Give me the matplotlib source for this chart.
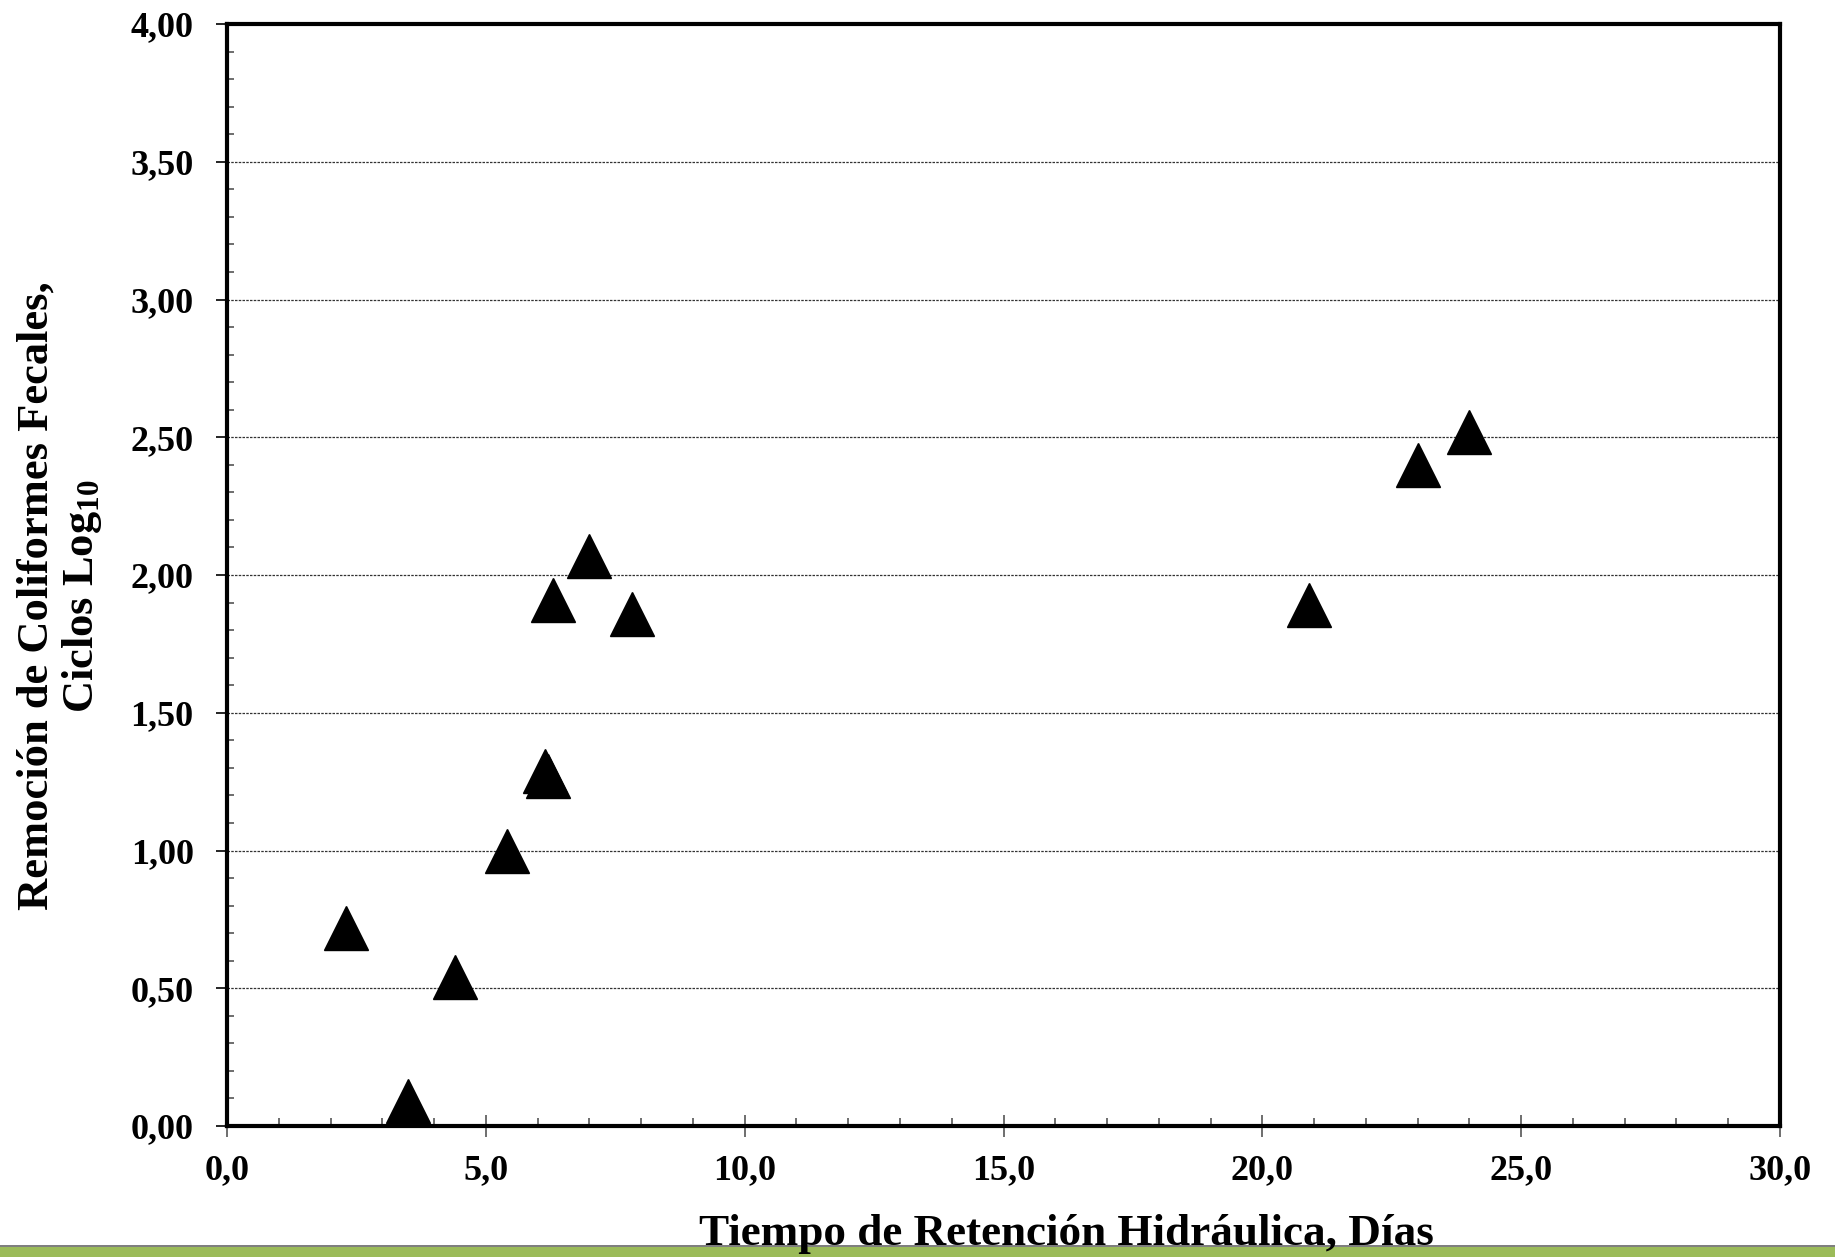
import matplotlib
matplotlib.use("Agg")
import matplotlib.pyplot as plt
from matplotlib.ticker import MultipleLocator, FuncFormatter
from matplotlib.patches import Rectangle

plt.rcParams['font.family'] = ['Liberation Serif', 'DejaVu Serif']
plt.rcParams['font.weight'] = 'bold'
plt.rcParams['mathtext.fontset'] = 'custom'
plt.rcParams['mathtext.rm'] = 'Liberation Serif:bold'
plt.rcParams['mathtext.bf'] = 'Liberation Serif:bold'
plt.rcParams['mathtext.default'] = 'bf'

# tiempo de retencion (dias) y remocion (ciclos log10)
trh = [2.3, 3.5, 4.4, 5.4, 6.15, 6.2, 6.3, 7.0, 7.82, 20.9, 23.0, 24.0]
remocion = [0.72, 0.09, 0.54, 1.0, 1.29, 1.27, 1.91, 2.07, 1.86, 1.89, 2.40, 2.52]

x_label = "Tiempo de Retención Hidráulica, Días"
y_label = "Remoción de Coliformes Fecales,\nCiclos Log$_{10}$"

fig = plt.figure(figsize=(18.35, 12.57), dpi=100)
ax = fig.add_axes([227 / 1835, 1 - 1126 / 1257, 1553 / 1835, 1102 / 1257])

ax.set_xlim(0, 30)
ax.set_ylim(0, 4)
ax.xaxis.set_major_locator(MultipleLocator(5))
ax.xaxis.set_minor_locator(MultipleLocator(1))
ax.yaxis.set_major_locator(MultipleLocator(0.5))
ax.yaxis.set_minor_locator(MultipleLocator(0.1))
ax.xaxis.set_major_formatter(FuncFormatter(lambda v, p: f"{v:.1f}".replace('.', ',')))
ax.yaxis.set_major_formatter(FuncFormatter(lambda v, p: f"{v:.2f}".replace('.', ',')))

ax.tick_params(axis='x', which='major', direction='inout', length=16, width=1.2,
               labelsize=26, pad=12, color='#555555')
ax.tick_params(axis='x', which='minor', direction='in', length=6, width=1.2, color='#555555')
ax.tick_params(axis='y', which='major', direction='out', length=8, width=1.2,
               labelsize=26, pad=16)
ax.tick_params(axis='y', which='minor', direction='in', length=5, width=1.2, color='#555555')

for s in ax.spines.values():
    s.set_linewidth(3)

for yv in [0.5, 1.0, 1.5, 2.0, 2.5, 3.0, 3.5]:
    ax.axhline(yv, color='#333333', lw=0.9, ls=(0, (2, 1)), zorder=1)

ax.plot(trh, remocion, ls='none', marker='^', ms=31, color='black',
        markeredgecolor='black', zorder=3, clip_on=False)

fig.text(1066 / 1835, 1 - 1214 / 1257, x_label, ha='center', va='top',
         fontsize=32.5, fontweight='bold')
fig.text(60 / 1835, 1 - 596 / 1257, y_label, ha='center', va='center',
         rotation=90, fontsize=32, fontweight='bold', multialignment='center',
         linespacing=1.1)

# franja verde inferior
fig.patches.append(Rectangle((0, 0), 1, 10 / 1257, transform=fig.transFigure,
                             facecolor='#9bbb59', edgecolor='none', zorder=0))
fig.patches.append(Rectangle((0, 10 / 1257), 1, 2 / 1257, transform=fig.transFigure,
                             facecolor='#7f7f7f', edgecolor='none', zorder=0))

fig.savefig('out.png', dpi=100)
